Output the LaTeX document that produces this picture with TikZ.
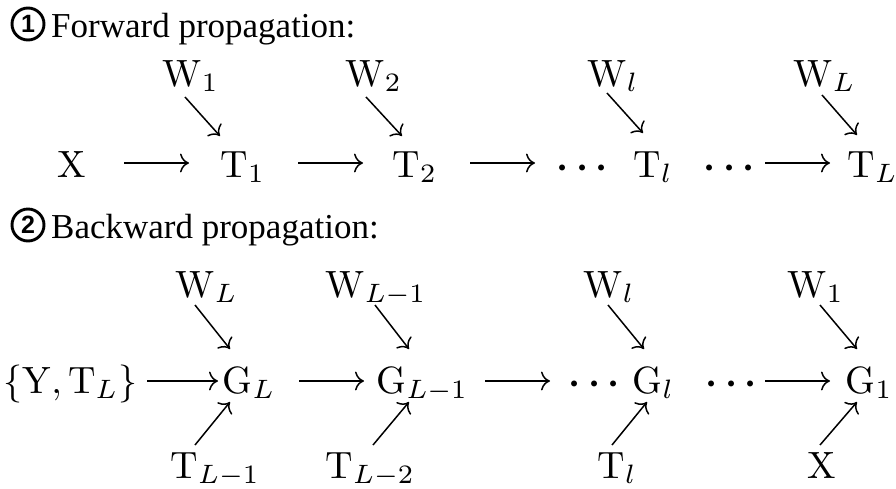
\documentclass[tikz,border=0pt]{standalone}
\usepackage{amsmath}
\usepackage{fontspec}
\usetikzlibrary{arrows.meta,calc}
\newfontfamily\headfont{Liberation Serif}
\newfontfamily\circfont{Liberation Sans}
\begin{document}
\begin{tikzpicture}[x=1pt,y=-1pt,
  m/.style={inner sep=0pt,anchor=base west,font=\fontsize{10}{12}\selectfont,scale=3.8},
  hd/.style={inner sep=0pt,anchor=base west,font=\fontsize{35}{42}\selectfont\headfont},
  circ/.style={circle,draw,line width=2.9pt,minimum size=32pt,inner sep=0pt,anchor=center,
    font=\fontsize{25}{30}\selectfont\circfont\bfseries},
  arr/.style={line width=1.5pt,-{Computer Modern Rightarrow[length=9pt,width=19pt]}}]
\useasboundingbox (0,0) rectangle (896,488);
% headings
\node[circ] (c1) at (28,24) {1};
\node[hd] (h1) at (51,37) {Forward propagation:};
\node[circ] (c2) at (28,225) {2};
\node[hd] (h2) at (51,238) {Backward propagation:};
% row 1
\node[m] (X)  at (57,177)  {$\mathrm{X}$};
\node[m] (T1) at (220,177) {$\mathrm{T}_1$};
\node[m] (T2) at (392,177) {$\mathrm{T}_2$};
\node[m] (d1) at (556,177) {$\boldsymbol{\cdots}$};
\node[m] (Tl) at (633,177) {$\mathrm{T}_l$};
\node[m] (d2) at (703,177) {$\boldsymbol{\cdots}$};
\node[m] (TL) at (847,177) {$\mathrm{T}_L$};
\node[m] (W1) at (162,86)  {$\mathrm{W}_1$};
\node[m] (W2) at (345,86)  {$\mathrm{W}_2$};
\node[m] (Wl) at (587,86)  {$\mathrm{W}_l$};
\node[m] (WL) at (793,86)  {$\mathrm{W}_L$};
% row 1 arrows
\draw[arr] ($(X.base west)+(67,-14)$) -- ($(T1.base west)+(-31,-14)$);
\draw[arr] ($(T1.base west)+(78,-14)$) -- ($(T2.base west)+(-29,-14)$);
\draw[arr] ($(T2.base west)+(78,-14)$) -- ($(d1.base west)+(-21,-14)$);
\draw[arr] ($(d2.base west)+(62,-14)$) -- ($(TL.base west)+(-17,-14)$);
\draw[arr] ($(W1.base west)+(23,11)$) -- ($(T1.base west)+(0,-41)$);
\draw[arr] ($(W2.base west)+(21,11)$) -- ($(T2.base west)+(10,-41)$);
\draw[arr] ($(Wl.base west)+(20,7)$) -- ($(Tl.base west)+(10,-44)$);
\draw[arr] ($(WL.base west)+(29,9)$) -- ($(TL.base west)+(10,-42)$);
% row 2
\node[m] (YT)  at (3,393)   {$\{\mathrm{Y},\mathrm{T}_L\}$};
\node[m] (GL)  at (222,393) {$\mathrm{G}_L$};
\node[m] (GLm) at (376,393) {$\mathrm{G}_{L-1}$};
\node[m] (e1)  at (568,393) {$\boldsymbol{\cdots}$};
\node[m] (Gl)  at (632,393) {$\mathrm{G}_l$};
\node[m] (e2)  at (705,393) {$\boldsymbol{\cdots}$};
\node[m] (G1)  at (845,393) {$\mathrm{G}_1$};
\node[m] (VL)  at (175,297) {$\mathrm{W}_L$};
\node[m] (VLm) at (325,297) {$\mathrm{W}_{L-1}$};
\node[m] (Vl)  at (583,297) {$\mathrm{W}_l$};
\node[m] (V1)  at (787,297) {$\mathrm{W}_1$};
\node[m] (ULm) at (170,478) {$\mathrm{T}_{L-1}$};
\node[m] (ULn) at (325,478) {$\mathrm{T}_{L-2}$};
\node[m] (Ul)  at (597,478) {$\mathrm{T}_l$};
\node[m] (Xb)  at (807,478) {$\mathrm{X}$};
% row 2 arrows
\draw[arr] ($(YT.base west)+(144,-12)$) -- ($(GL.base west)+(-4,-12)$);
\draw[arr] ($(GL.base west)+(77,-12)$) -- ($(GLm.base west)+(-12,-12)$);
\draw[arr] ($(GLm.base west)+(109,-12)$) -- ($(e1.base west)+(-18,-12)$);
\draw[arr] ($(e2.base west)+(60,-12)$) -- ($(G1.base west)+(-15,-12)$);
\draw[arr] ($(VL.base west)+(20,8)$) -- ($(GL.base west)+(8,-44)$);
\draw[arr] ($(VLm.base west)+(50,8)$) -- ($(GLm.base west)+(33,-44)$);
\draw[arr] ($(Vl.base west)+(25,8)$) -- ($(Gl.base west)+(12,-44)$);
\draw[arr] ($(V1.base west)+(33,8)$) -- ($(G1.base west)+(12,-44)$);
\draw[arr] ($(ULm.base west)+(25,-33)$) -- ($(GL.base west)+(8,9)$);
\draw[arr] ($(ULn.base west)+(48,-33)$) -- ($(GLm.base west)+(33,9)$);
\draw[arr] ($(Ul.base west)+(15,-33)$) -- ($(Gl.base west)+(15,9)$);
\draw[arr] ($(Xb.base west)+(13,-33)$) -- ($(G1.base west)+(12,9)$);
\end{tikzpicture}
\end{document}
